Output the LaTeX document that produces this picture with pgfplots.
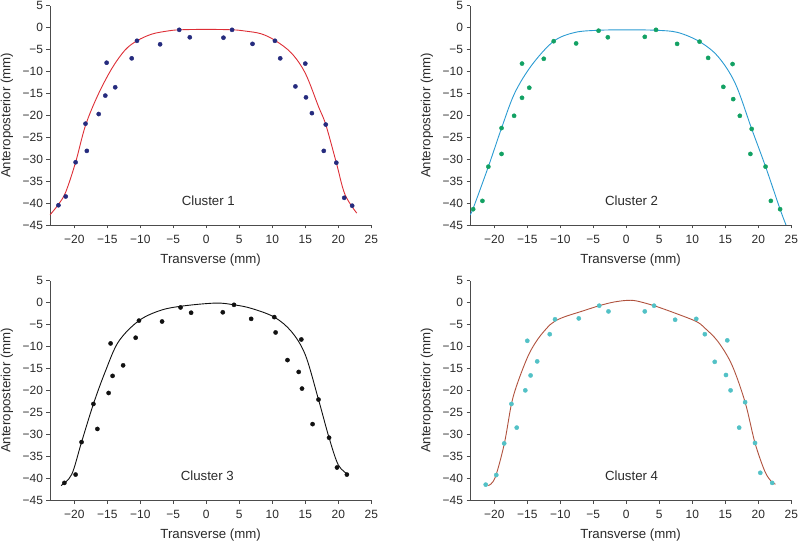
\documentclass[border=0pt]{standalone}
\usepackage{pgfplots}
\pgfplotsset{compat=1.18}
\usepackage{fontspec}
\setmainfont{Liberation Sans}
\definecolor{c1line}{HTML}{DD2E36}
\definecolor{c1dot}{HTML}{252B7E}
\definecolor{c2line}{HTML}{2B9BD2}
\definecolor{c2dot}{HTML}{12A163}
\definecolor{c3line}{HTML}{111111}
\definecolor{c3dot}{HTML}{111111}
\definecolor{c4line}{HTML}{B0523E}
\definecolor{c4dot}{HTML}{52C1C6}
\definecolor{txt}{HTML}{2A2A2A}
\pgfplotsset{panel/.style={
  scale only axis, width=321.3bp, height=219.3bp,
  xmin=-23.68, xmax=25, ymin=-45, ymax=5,
  axis x line*=bottom, axis y line*=left,
  axis line style={black!70, line width=0.7bp},
  tick style={black!70, line width=0.7bp},
  tick align=outside, major tick length=3.5bp,
  xtick={-20,-15,...,25},
  xticklabels={−20,−15,−10,−5,0,5,10,15,20,25},
  ytick={-45,-40,...,5},
  yticklabels={−45,−40,−35,−30,−25,−20,−15,−10,−5,0,5},
  ticklabel style={font=\fontsize{12}{14}\selectfont, text=txt},
  xticklabel style={yshift=-3bp},
  xlabel={Transverse (mm)}, ylabel={Anteroposterior (mm)},
  label style={font=\fontsize{13.3}{15}\selectfont, text=txt},
  xlabel style={at={(axis description cs:0.5,-0.158)}, anchor=center},
  ylabel style={at={(axis description cs:-0.134,0.5)}, anchor=center},
  dots/.style={only marks, mark=*, mark size=2.1bp},
  curve/.style={no marks, smooth, tension=0.55, line width=0.9bp},
}}
\begin{document}
\begin{tikzpicture}
\useasboundingbox (0,0) rectangle (800bp,542bp);
% ---------- Cluster 1 ----------
\begin{axis}[panel, at={(50bp,317bp)}, anchor=south west]
\addplot[curve, c1line] coordinates {
(-23.68,-42.7) (-22.4,-40.3) (-21.3,-37.5) (-19.8,-30.7) (-18.3,-22.3)
(-16.4,-15.3) (-14.3,-9.3) (-12.3,-5.1) (-10.5,-3.0) (-8.3,-1.5)
(-6,-0.8) (-4.1,-0.5) (0,-0.4) (4,-0.5) (6,-0.8) (8.3,-1.4)
(10.4,-2.9) (12.9,-5.8) (15.0,-10.4) (17.0,-18.0) (18.1,-22.1)
(19.7,-30.8) (21.0,-38.0) (22.8,-42.3)};
\addplot[dots, c1dot] coordinates {
(-22.4,-40.5) (-21.3,-38.5) (-19.8,-30.7) (-18.3,-21.9) (-18.1,-28.1)
(-16.3,-19.7) (-15.3,-15.5) (-15.1,-8.0) (-13.8,-13.6) (-11.3,-7.0)
(-10.5,-3.0) (-7.0,-3.8) (-4.1,-0.5) (-2.5,-2.2)
(2.6,-2.3) (3.9,-0.5) (7.0,-3.7) (10.4,-3.0) (11.2,-7.0)
(15.0,-8.2) (13.5,-13.4) (15.1,-15.9) (16.0,-19.5) (18.1,-22.1)
(17.8,-28.1) (19.7,-30.8) (20.9,-38.8) (22.1,-40.6)};
\node[font=\fontsize{13.3}{15}\selectfont, text=txt] at (axis cs:0.3,-39.5) {Cluster 1};
\end{axis}
% ---------- Cluster 2 ----------
\begin{axis}[panel, at={(470bp,317bp)}, anchor=south west]
\addplot[curve, c2line] coordinates {
(-23.68,-42.7) (-23.2,-41.2) (-20.9,-31.7) (-18.9,-22.9) (-16.9,-14.9)
(-14.3,-8.5) (-11.0,-3.1) (-7.8,-1.1) (-4.2,-0.6) (0,-0.5)
(4.5,-0.6) (7.8,-1.1) (11.1,-3.2) (13.9,-6.6) (16.5,-12.7)
(19.0,-23.1) (21.1,-31.7) (23.3,-41.4) (24.2,-45)};
\addplot[dots, c2dot] coordinates {
(-23.2,-41.4) (-21.8,-39.5) (-20.9,-31.7) (-18.9,-22.9) (-18.9,-28.8)
(-17.0,-20.1) (-15.8,-16.0) (-15.8,-8.2) (-14.7,-13.7) (-12.5,-7.1)
(-11.0,-3.1) (-7.6,-3.6) (-4.2,-0.7) (-2.8,-2.2)
(2.8,-2.1) (4.5,-0.5) (7.7,-3.7) (11.1,-3.2) (12.4,-6.9)
(16.1,-8.3) (14.7,-13.5) (16.2,-16.3) (17.2,-20.1) (19.0,-23.1)
(18.8,-28.8) (21.1,-31.7) (21.9,-39.5) (23.3,-41.4)};
\node[font=\fontsize{13.3}{15}\selectfont, text=txt] at (axis cs:0.8,-39.5) {Cluster 2};
\end{axis}
% ---------- Cluster 3 ----------
\begin{axis}[panel, at={(50bp,42bp)}, anchor=south west]
\addplot[curve, c3line] coordinates {
(-22.0,-41.7) (-20.4,-39.2) (-18.9,-31.8) (-17.1,-23.1) (-15.3,-15.7)
(-13.3,-8.9) (-10.2,-4.1) (-6.8,-1.7) (-3.2,-0.7) (1.5,-0.1)
(4.2,-0.5) (6.8,-1.3) (10.3,-3.3) (12.9,-6.6) (15.0,-11.9)
(17.0,-22.1) (18.6,-30.8) (20.0,-37.0) (21.5,-39.2)};
\addplot[dots, c3dot] coordinates {
(-21.5,-41.1) (-19.8,-39.2) (-18.9,-31.8) (-17.1,-23.1) (-16.5,-28.8)
(-14.8,-20.6) (-14.2,-16.7) (-14.5,-9.3) (-12.6,-14.3) (-10.7,-8.0)
(-10.2,-4.1) (-6.7,-4.3) (-3.9,-1.1) (-2.3,-2.3)
(2.5,-2.2) (4.2,-0.5) (6.8,-3.7) (10.3,-3.3) (10.5,-6.8)
(14.4,-8.4) (12.3,-13.1) (14.0,-15.8) (14.5,-19.6) (17.0,-22.1)
(16.1,-27.7) (18.6,-30.8) (19.8,-37.6) (21.3,-39.2)};
\node[font=\fontsize{13.3}{15}\selectfont, text=txt] at (axis cs:0.15,-39.5) {Cluster 3};
\end{axis}
% ---------- Cluster 4 ----------
\begin{axis}[panel, at={(470bp,42bp)}, anchor=south west]
\addplot[curve, c4line] coordinates {
(-20.9,-41.7) (-19.9,-40.0) (-18.5,-32.3) (-17.4,-23.1) (-16.4,-18.0)
(-14.8,-11.9) (-13.3,-8.1) (-11.6,-5.1) (-10.8,-4.2) (-9.3,-3.2) (-6.8,-2.0)
(-4.1,-0.7) (-2.0,0.1) (0,0.5) (1.5,0.4) (4.2,-0.7) (7.4,-2.4)
(10.6,-4.3) (11.9,-5.8) (13.9,-8.9) (16.0,-14.2) (18.0,-22.7)
(19.5,-32.0) (21.0,-38.5) (22.0,-40.8) (22.6,-41.4)};
\addplot[dots, c4dot] coordinates {
(-21.3,-41.5) (-19.7,-39.3) (-18.5,-32.1) (-17.4,-23.1) (-16.6,-28.5)
(-15.3,-20.0) (-14.5,-16.6) (-15.0,-8.7) (-13.5,-13.4) (-11.6,-7.2)
(-10.8,-3.8) (-7.2,-3.6) (-4.1,-0.7) (-2.7,-2.0)
(2.8,-2.0) (4.2,-0.7) (7.4,-3.9) (10.6,-3.7) (11.9,-7.2)
(15.3,-8.6) (13.4,-13.5) (15.1,-16.5) (15.8,-20.0) (18.0,-22.7)
(17.1,-28.5) (19.5,-32.0) (20.3,-38.8) (22.1,-41.1)};
\node[font=\fontsize{13.3}{15}\selectfont, text=txt] at (axis cs:0.8,-39.5) {Cluster 4};
\end{axis}
\end{tikzpicture}
\end{document}
